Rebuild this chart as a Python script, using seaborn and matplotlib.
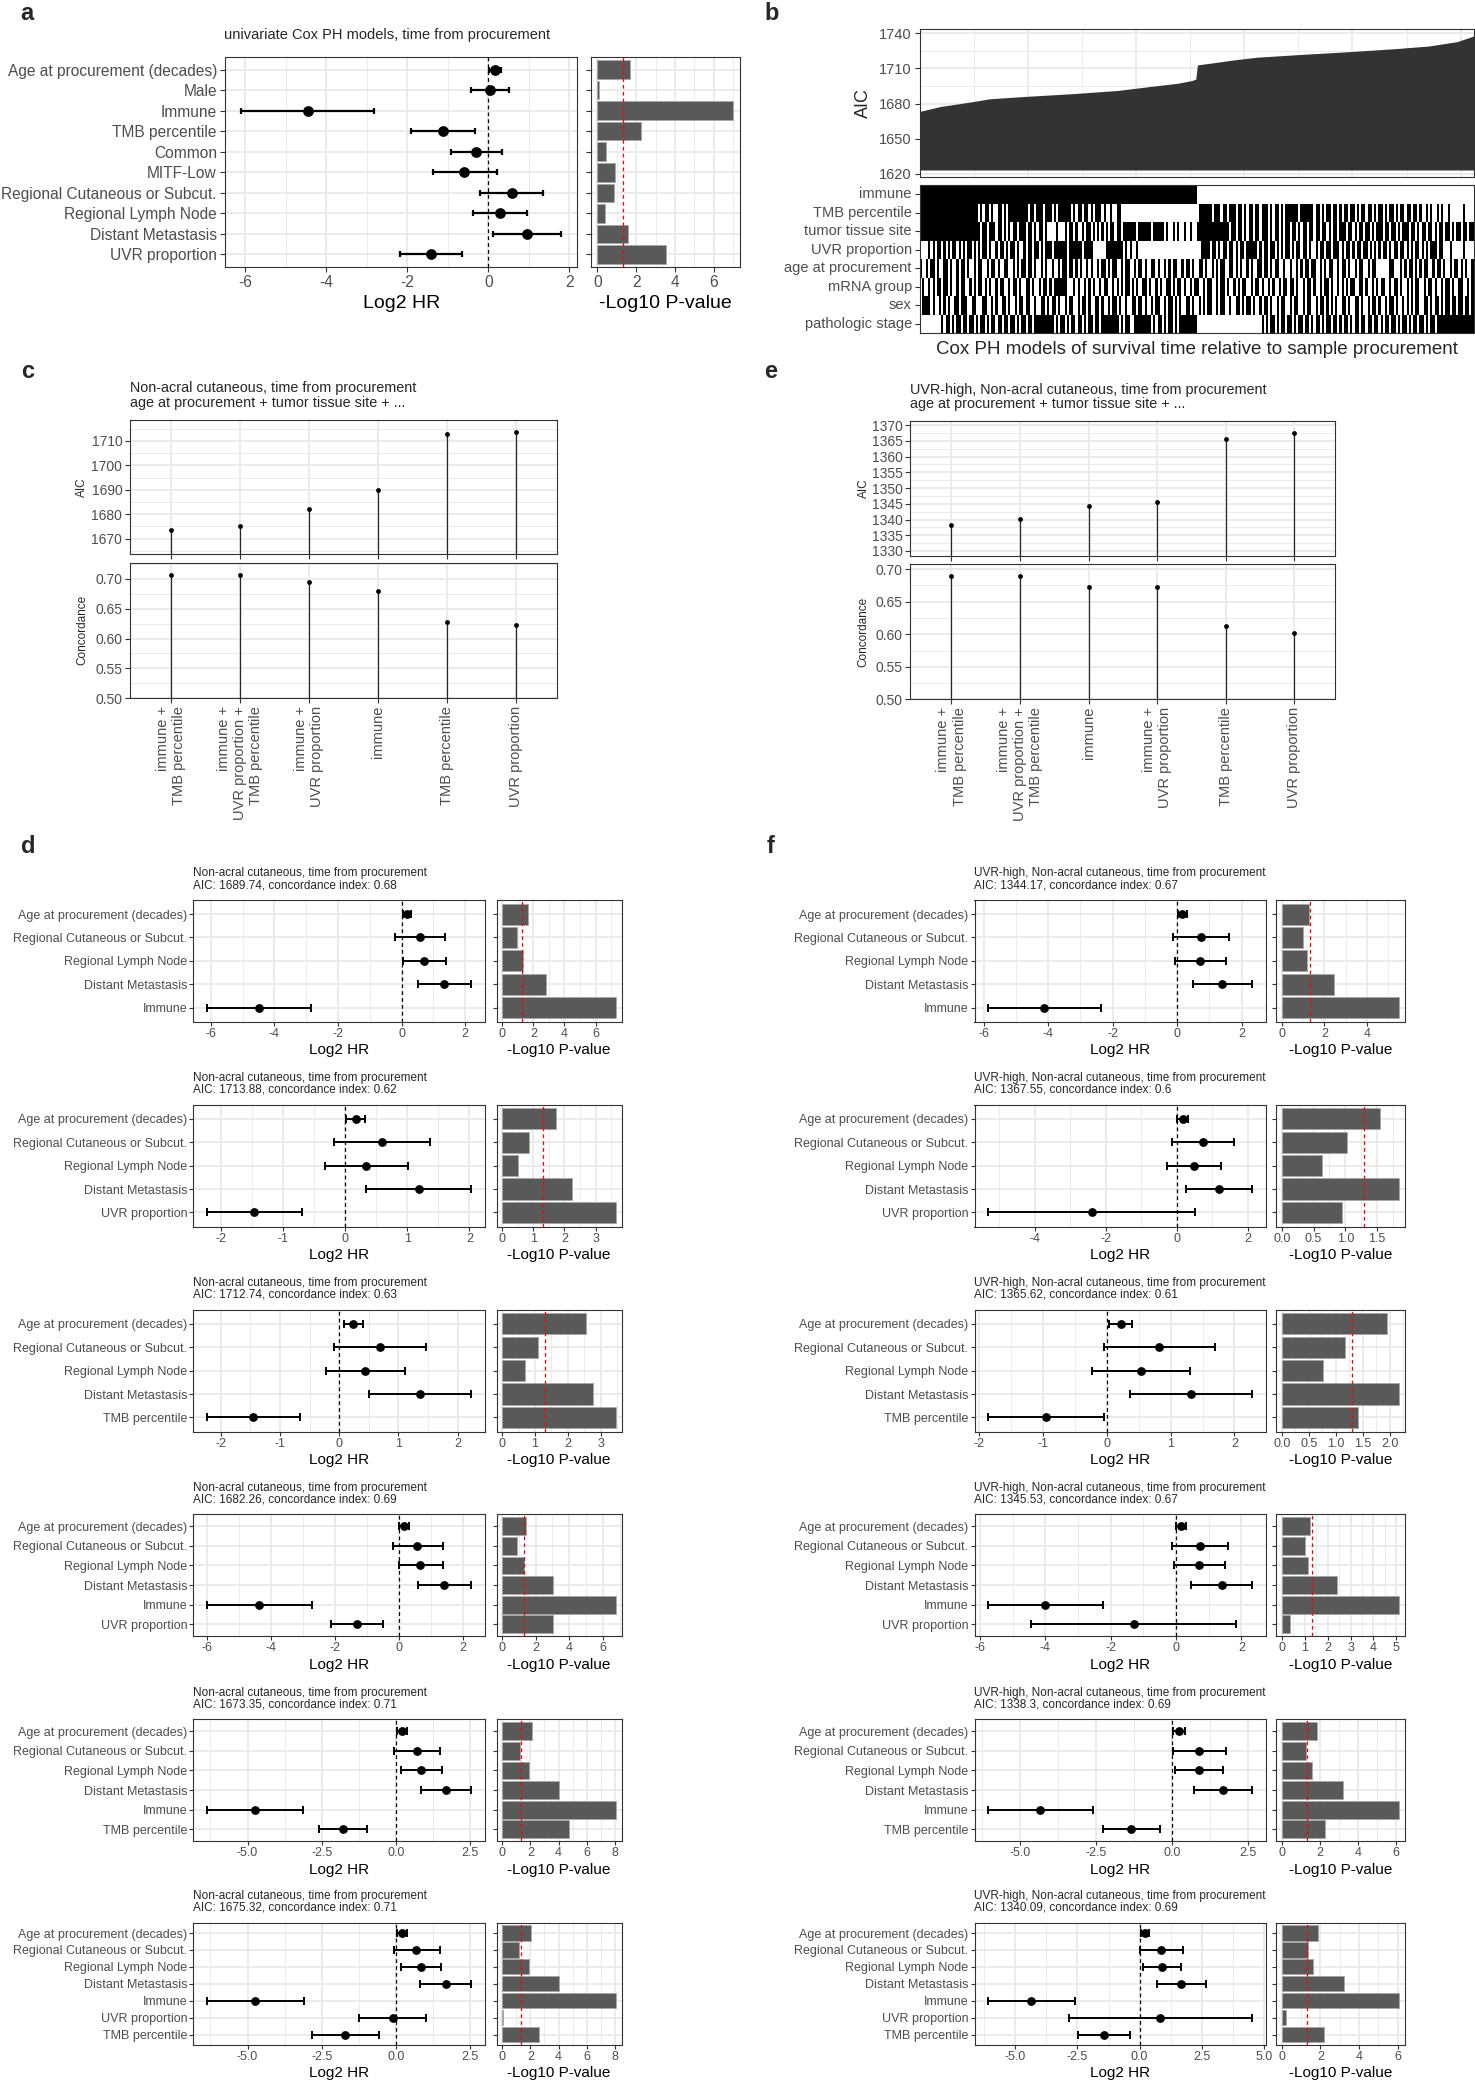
import numpy as np
import pandas as pd
import matplotlib
matplotlib.use("Agg")
import matplotlib.pyplot as plt
import seaborn as sns
from matplotlib.ticker import AutoMinorLocator

sns.set_theme(style="white")
plt.rcParams["font.family"] = ["Liberation Sans", "DejaVu Sans"]
plt.rcParams["axes.unicode_minus"] = False

# ---------------- panel a: univariate Cox models ----------------
a_terms = ["Age at procurement (decades)", "Male", "Immune", "TMB percentile", "Common",
           "MITF-Low", "Regional Cutaneous or Subcut.", "Regional Lymph Node",
           "Distant Metastasis", "UVR proportion"]
a_hr = [0.17, 0.05, -4.45, -1.11, -0.30, -0.60, 0.57, 0.29, 0.95, -1.42]
a_lo = [0.02, -0.43, -6.10, -1.90, -0.92, -1.37, -0.21, -0.38, 0.12, -2.19]
a_hi = [0.31, 0.51, -2.83, -0.32, 0.34, 0.20, 1.35, 0.96, 1.79, -0.66]
a_p = [1.66, 0.07, 7.00, 2.27, 0.44, 0.88, 0.83, 0.41, 1.59, 3.54]
a_xt = [-6, -4, -2, 0, 2]
a_pt = [0, 2, 4, 6]

# ---------------- panel b: all models sorted by AIC ----------------
b_rank = [0, 9.7, 18.3, 26.9, 32.3, 48.4, 69.9, 91.4, 106.5, 119.4, 125.8, 127.6,
          128.4, 134.4, 145.2, 155.9, 177.5, 199.0, 220.5, 235.5, 248.4, 256]
b_aic = [1673.3, 1677.6, 1679.9, 1682.4, 1684.1, 1686.1, 1688.4, 1691.2, 1694.6, 1697.4,
         1699.7, 1700.9, 1713.0, 1714.5, 1717.3, 1719.6, 1722.1, 1724.4, 1727.0, 1729.2,
         1732.9, 1737.7]
b_base = 1623.35
b_yt = [1620, 1650, 1680, 1710, 1740]
b_vars = ["immune", "TMB percentile", "tumor tissue site", "UVR proportion",
          "age at procurement", "mRNA group", "sex", "pathologic stage"]
n_models = 256

hm_immune = "1" * 128 + "0" * 128
hm_tmb = "".join(["1" * 27, "010110100110101", "1111111", "101101", "11011101011", "1111",
                  "01011011010", "1110", "10010011", "0" * 36, "111111", "011",
                  "101101110110101101101110101101011", "1111011111",
                  "101101011011010110110101101101011010110101101101",
                  "101001010010100100", "000010000"])
hm_site = "".join(["1" * 27, "10110111011010", "1011011101101011010", "0001000",
                   "10110100101101010", "10101101101", "11111011111101111", "1010010100",
                   "100100", "1" * 14,
                   "1011011010", "1101101110", "1011010110", "1101011011", "0110110101",
                   "1011101101", "0110110101", "1101101101", "0111011010", "1101101011",
                   "0110101101", "1011"])
hm_uvr = "".join(["0000", "10101101010110101011010", "1011010010110101101001011011010",
                  "11101", "11111011111101111", "000000", "11111111", "0101001000", "0" * 24,
                  "0011", "1101101011", "0110101101", "1111010110", "1101010110",
                  "1011011010", "0101101101", "1101011010", "1101101010", "1011010110",
                  "1101010110", "101011101", "100010000010000"])
hm_age = "".join(["1001011010", "0110100101", "1010010110", "0101101001", "1001010110",
                  "1101001010", "0100101101", "1010100101", "0010110101", "1001011001",
                  "0110100110", "1001010110", "0101101001", "1010010101", "1001101010",
                  "0101001101", "1010110010", "0100101011", "0110010101", "1001011010",
                  "0101100101", "1000000110", "0010101101", "0101100101", "1010010110",
                  "101001"])
hm_mrna = "".join(["0100101011", "0110100101", "1001010110", "1010010110", "0101101001",
                   "1010010110", "1011111100", "0101001010", "1001011001", "0101011010",
                   "1001101001", "0100110101", "1010010110", "0101100101", "1010010101",
                   "1001011010", "0101001011", "0110100101", "1010010110", "1001010101",
                   "1001101001", "0101100101", "1010010101", "1001011010", "0101101001",
                   "100101"])
hm_sex = "".join(["0111101001", "0101001101", "1100110001", "1001010011", "0100101101",
                  "1001001101", "0110100101", "1001011010", "0110100101", "1010010011",
                  "0110100101", "1001011010", "1001101001", "0101100101", "1001001101",
                  "0110100101", "1010010110", "0101100101", "1001011010", "1010011010",
                  "0110100101", "1010010110", "1001010101", "1001101011", "0101101101",
                  "101101"])
hm_stage = "".join(["0" * 10, "1011010110", "1101101011", "0101101101", "1011010110", "11011",
                    "1111111", "0101101011", "0110101101", "101", "1111111", "0101100",
                    "11111111", "01011010110101", "1111111", "0" * 30,
                    "1010110101", "1011010110", "1101011010", "1101101011", "0101101101",
                    "1011010110", "1101011010", "1101101011", "011", "1" * 15])

# ---------------- panels c / e: model comparison ----------------
c_labels = ["immune +\nTMB percentile", "immune +\nUVR proportion +\nTMB percentile",
            "immune +\nUVR proportion", "immune", "TMB percentile", "UVR proportion"]
c_aic = [1673.35, 1675.32, 1682.26, 1689.74, 1712.74, 1713.88]
c_conc = [0.707, 0.707, 0.694, 0.679, 0.628, 0.622]
c_aic_lim = (1663.6, 1718.6)
c_aic_t = [1670, 1680, 1690, 1700, 1710]
c_conc_lim = (0.50, 0.727)

e_labels = ["immune +\nTMB percentile", "immune +\nUVR proportion +\nTMB percentile",
            "immune", "immune +\nUVR proportion", "TMB percentile", "UVR proportion"]
e_aic = [1338.3, 1340.09, 1344.17, 1345.53, 1365.62, 1367.55]
e_conc = [0.690, 0.690, 0.672, 0.672, 0.612, 0.602]
e_aic_lim = (1328.5, 1371.3)
e_aic_t = [1330, 1335, 1340, 1345, 1350, 1355, 1360, 1365, 1370]
e_conc_lim = (0.50, 0.708)
conc_t = [0.50, 0.55, 0.60, 0.65, 0.70]

# ---------------- panels d / f: multivariable models ----------------
base_terms = ["Age at procurement (decades)", "Regional Cutaneous or Subcut.",
              "Regional Lymph Node", "Distant Metastasis"]
sub_extra = [["Immune"], ["UVR proportion"], ["TMB percentile"], ["Immune", "UVR proportion"],
             ["Immune", "TMB percentile"], ["Immune", "UVR proportion", "TMB percentile"]]

d_hr = [[0.16, 0.58, 0.70, 1.34, -4.49],
        [0.17, 0.585, 0.34, 1.19, -1.46],
        [0.23, 0.68, 0.435, 1.36, -1.46],
        [0.16, 0.57, 0.66, 1.405, -4.36, -1.32],
        [0.21, 0.71, 0.85, 1.69, -4.76, -1.78],
        [0.21, 0.69, 0.84, 1.69, -4.74, -0.10, -1.70]]
d_lo = [[0.03, -0.20, 0.03, 0.50, -6.13],
        [0.015, -0.18, -0.32, 0.34, -2.23],
        [0.08, -0.085, -0.22, 0.51, -2.24],
        [0.01, -0.19, 0.01, 0.59, -6.00, -2.11],
        [0.02, -0.05, 0.18, 0.83, -6.38, -2.59],
        [0.02, -0.06, 0.16, 0.82, -6.38, -1.24, -2.83]]
d_hi = [[0.31, 1.36, 1.40, 2.19, -2.84],
        [0.32, 1.36, 1.01, 2.03, -0.69],
        [0.395, 1.457, 1.11, 2.23, -0.66],
        [0.32, 1.36, 1.36, 2.25, -2.71, -0.51],
        [0.37, 1.48, 1.54, 2.54, -3.13, -0.98],
        [0.37, 1.48, 1.53, 2.54, -3.10, 1.03, -0.58]]
d_p = [[1.66, 0.93, 1.36, 2.83, 7.30],
       [1.73, 0.86, 0.52, 2.25, 3.65],
       [2.55, 1.09, 0.70, 2.76, 3.46],
       [1.40, 0.87, 1.29, 3.03, 6.78, 3.03],
       [2.13, 1.23, 1.90, 4.03, 8.07, 4.73],
       [2.07, 1.17, 1.90, 4.07, 8.07, 0.07, 2.63]]
d_aic = ["1689.74", "1713.88", "1712.74", "1682.26", "1673.35", "1675.32"]
d_cidx = ["0.68", "0.62", "0.63", "0.69", "0.71", "0.71"]
d_xt = [[-6, -4, -2, 0, 2], [-2, -1, 0, 1, 2], [-2, -1, 0, 1, 2], [-6, -4, -2, 0, 2],
        [-5, -2.5, 0, 2.5], [-5, -2.5, 0, 2.5]]
d_xtl = [["-6", "-4", "-2", "0", "2"], ["-2", "-1", "0", "1", "2"], ["-2", "-1", "0", "1", "2"],
         ["-6", "-4", "-2", "0", "2"], ["-5.0", "-2.5", "0.0", "2.5"], ["-5.0", "-2.5", "0.0", "2.5"]]
d_pt = [[0, 2, 4, 6], [0, 1, 2, 3], [0, 1, 2, 3], [0, 2, 4, 6], [0, 2, 4, 6, 8], [0, 2, 4, 6, 8]]
d_ptl = [["0", "2", "4", "6"], ["0", "1", "2", "3"], ["0", "1", "2", "3"], ["0", "2", "4", "6"],
         ["0", "2", "4", "6", "8"], ["0", "2", "4", "6", "8"]]

f_hr = [[0.16, 0.74, 0.71, 1.39, -4.12],
        [0.18, 0.74, 0.48, 1.18, -2.39],
        [0.22, 0.82, 0.54, 1.32, -0.96],
        [0.16, 0.73, 0.71, 1.39, -4.00, -1.29],
        [0.22, 0.88, 0.91, 1.68, -4.34, -1.34],
        [0.21, 0.86, 0.90, 1.65, -4.35, 0.83, -1.44]]
f_lo = [[0.02, -0.13, -0.06, 0.48, -5.87],
        [0.01, -0.12, -0.27, 0.25, -5.32],
        [0.04, -0.04, -0.23, 0.36, -1.87],
        [0.00, -0.13, -0.06, 0.47, -5.76, -4.43],
        [0.03, 0.03, 0.11, 0.72, -6.07, -2.28],
        [0.04, 0.02, 0.13, 0.71, -6.10, -2.83, -2.48]]
f_hi = [[0.30, 1.61, 1.52, 2.33, -2.35],
        [0.33, 1.61, 1.25, 2.13, 0.53],
        [0.39, 1.69, 1.31, 2.28, -0.05],
        [0.30, 1.60, 1.50, 2.33, -2.24, 1.83],
        [0.42, 1.77, 1.69, 2.65, -2.60, -0.40],
        [0.39, 1.74, 1.65, 2.65, -2.59, 4.52, -0.39]]
f_p = [[1.27, 1.00, 1.16, 2.44, 5.49],
       [1.55, 1.03, 0.64, 1.84, 0.94],
       [1.96, 1.18, 0.77, 2.17, 1.42],
       [1.24, 1.01, 1.14, 2.42, 5.10, 0.35],
       [1.83, 1.29, 1.59, 3.20, 6.12, 2.28],
       [1.89, 1.35, 1.59, 3.23, 6.05, 0.20, 2.16]]
f_aic = ["1344.17", "1367.55", "1365.62", "1345.53", "1338.3", "1340.09"]
f_cidx = ["0.67", "0.6", "0.61", "0.67", "0.69", "0.69"]
f_xt = [[-6, -4, -2, 0, 2], [-4, -2, 0, 2], [-2, -1, 0, 1, 2], [-6, -4, -2, 0, 2],
        [-5, -2.5, 0, 2.5], [-5, -2.5, 0, 2.5, 5]]
f_xtl = [["-6", "-4", "-2", "0", "2"], ["-4", "-2", "0", "2"], ["-2", "-1", "0", "1", "2"],
         ["-6", "-4", "-2", "0", "2"], ["-5.0", "-2.5", "0.0", "2.5"],
         ["-5.0", "-2.5", "0.0", "2.5", "5.0"]]
f_pt = [[0, 2, 4], [0, 0.5, 1, 1.5], [0, 0.5, 1, 1.5, 2], [0, 1, 2, 3, 4, 5], [0, 2, 4, 6], [0, 2, 4, 6]]
f_ptl = [["0", "2", "4"], ["0.0", "0.5", "1.0", "1.5"], ["0.0", "0.5", "1.0", "1.5", "2.0"],
         ["0", "1", "2", "3", "4", "5"], ["0", "2", "4", "6"], ["0", "2", "4", "6"]]

p_cut = 0.05

# =========================
# Layout helpers (pixel boxes)
# =========================
W, H = 1475, 2083
fig = plt.figure(figsize=(W / 100, H / 100), dpi=100)
GRID = "#EBEBEB"
TXT = "#4D4D4D"


def box(x0, y0, x1, y1):
    return fig.add_axes([x0 / W, 1 - y1 / H, (x1 - x0) / W, (y1 - y0) / H])


def ftxt(x, y, s, **kw):
    kw.setdefault("ha", "center")
    kw.setdefault("va", "center")
    fig.text(x / W, 1 - y / H, s, **kw)


def style(ax, size, tick_len=3.2, pad=2.0, grid=True):
    ax.set_facecolor("white")
    for sp in ax.spines.values():
        sp.set_visible(True)
        sp.set_color("#333333")
        sp.set_linewidth(0.8)
    ax.set_axisbelow(True)
    if grid:
        ax.grid(True, which="major", color=GRID, lw=1.4)
        ax.grid(True, which="minor", color=GRID, lw=0.7)
    ax.tick_params(which="major", length=tick_len, width=0.8, color="#333333",
                   labelcolor=TXT, labelsize=size, pad=pad, left=True, bottom=True)
    ax.tick_params(which="minor", length=0)
    ax.set_xlabel("")
    ax.set_ylabel("")


def forest(fx, bx, top, bot, terms, hr, lo, hi, p, xt, xtl, pt, ptl,
           size, lab_size, lab_off, ms, lw, cap, tick_len, pad):
    axf = box(fx[0], top, fx[1], bot)
    axb = box(bx[0], top, bx[1], bot)
    hr, lo, hi, p = map(np.asarray, (hr, lo, hi, p))
    n = len(terms)
    y = np.arange(n)

    axf.errorbar(hr, y, xerr=[hr - lo, hi - hr], fmt="none", ecolor="black",
                 elinewidth=lw, capsize=cap, capthick=lw, zorder=2)
    sns.scatterplot(x=hr, y=y, ax=axf, s=ms, color="black", linewidth=0, zorder=3)
    axf.axvline(0, color="black", lw=0.9, ls=(0, (3, 2.5)), zorder=2.5)
    span = hi.max() - lo.min()
    axf.set_xlim(lo.min() - 0.05 * span, hi.max() + 0.05 * span)
    axf.set_xticks(xt, labels=xtl)
    axf.xaxis.set_minor_locator(AutoMinorLocator(2))
    axf.set_yticks(y, labels=terms)
    axf.set_ylim(n - 0.4, -0.6)
    style(axf, size, tick_len, pad)

    df = pd.DataFrame({"term": terms, "p": p})
    sns.barplot(data=df, x="p", y="term", ax=axb, orient="h", color="#595959",
                saturation=1, width=0.9, errorbar=None, edgecolor="#a8a8a8", linewidth=0.6)
    axb.axvline(-np.log10(p_cut), color="red", lw=0.9, ls=(0, (3, 2.5)), zorder=3)
    axb.set_xlim(-0.05 * p.max(), 1.05 * p.max())
    axb.set_xticks(pt, labels=ptl)
    axb.xaxis.set_minor_locator(AutoMinorLocator(2))
    axb.set_yticks(y, labels=[""] * n)
    axb.set_ylim(n - 0.4, -0.6)
    style(axb, size, tick_len, pad)

    ftxt((fx[0] + fx[1]) / 2, bot + lab_off, "Log2 HR", fontsize=lab_size, color="black")
    ftxt((bx[0] + bx[1]) / 2, bot + lab_off, "-Log10 P-value", fontsize=lab_size, color="black")


def lollipop(ax_top, ax_bot, aic, conc, aic_lim, aic_t, conc_lim, labels):
    x = np.arange(len(aic))
    for ax, vals, lim, ticks, fmt in ((ax_top, aic, aic_lim, aic_t, "{:g}"),
                                      (ax_bot, conc, conc_lim, conc_t, "{:.2f}")):
        ax.vlines(x, lim[0], vals, color="#262626", lw=0.9, zorder=2)
        sns.scatterplot(x=x, y=vals, ax=ax, s=12, color="black", linewidth=0, zorder=3)
        ax.set_xlim(-0.6, len(x) - 0.4)
        ax.set_ylim(lim)
        ax.set_yticks(ticks, labels=[fmt.format(t) for t in ticks])
        ax.yaxis.set_minor_locator(AutoMinorLocator(2))
        style(ax, 10, 3.5, 2.0)
    ax_top.set_xticks(x, labels=[""] * len(x))
    ax_bot.set_xticks(x)
    ax_bot.set_xticklabels(labels, rotation=90, ha="center", va="top", multialignment="right",
                           fontsize=10.5, color=TXT)


# =========================
# Panel a
# =========================
ftxt(27, 14, "a", fontsize=17, fontweight="bold")
ftxt(224.5, 35, "univariate Cox PH models, time from procurement", fontsize=10.5, ha="left")
forest((225.4, 576.9), (590.7, 739.7), 57.3, 266.7, a_terms, a_hr, a_lo, a_hi, a_p,
       a_xt, [str(t) for t in a_xt], a_pt, [str(t) for t in a_pt],
       size=11.2, lab_size=14, lab_off=36.3, ms=60, lw=1.6, cap=2.5, tick_len=3.6, pad=2.5)

# =========================
# Panel b
# =========================
ftxt(772, 14, "b", fontsize=17, fontweight="bold")
axA = box(919.6, 29.3, 1473.6, 176.7)
axA.fill_between(b_rank, b_base, b_aic, color="#333333", lw=0)
rng = max(b_aic) - b_base
axA.set_xlim(0, n_models)
axA.set_ylim(b_base - 0.05 * rng, max(b_aic) + 0.05 * rng)
axA.set_yticks(b_yt, labels=[str(t) for t in b_yt])
axA.yaxis.set_minor_locator(AutoMinorLocator(2))
axA.set_xticks([50, 100, 150, 200, 250], labels=[""] * 5)
axA.xaxis.set_minor_locator(AutoMinorLocator(2))
style(axA, 10.5, 3.6, 2.0)
axA.tick_params(axis="x", length=0)
ftxt(863.7, 103, "AIC", fontsize=13, rotation=90)

axH = box(919.6, 185, 1473.6, 333.3)
hm_rows = [hm_immune, hm_tmb, hm_site, hm_uvr, hm_age, hm_mrna, hm_sex, hm_stage]
mat = np.array([[int(c) for c in (r + "0" * n_models)[:n_models]] for r in hm_rows])
sns.heatmap(mat, ax=axH, cmap=["white", "black"], vmin=0, vmax=1, cbar=False,
            xticklabels=False, yticklabels=b_vars)
style(axH, 10.5, 3.6, 2.0, grid=False)
axH.tick_params(axis="y", rotation=0)
axH.tick_params(axis="x", length=0)
ftxt(1196.6, 350, "Cox PH models of survival time relative to sample procurement", fontsize=13.5)

# =========================
# Panel c
# =========================
ftxt(28, 372, "c", fontsize=17, fontweight="bold")
ftxt(130, 388.3, "Non-acral cutaneous, time from procurement", fontsize=10.4, ha="left")
ftxt(130, 403.3, "age at procurement + tumor tissue site + ...", fontsize=10.4, ha="left")
axc1 = box(129.9, 420, 557.3, 554.3)
axc2 = box(129.9, 562.7, 557.3, 698.3)
lollipop(axc1, axc2, c_aic, c_conc, c_aic_lim, c_aic_t, c_conc_lim, c_labels)
ftxt(82, 487, "AIC", fontsize=8.5, rotation=90)
ftxt(82, 630, "Concordance", fontsize=8.5, rotation=90)

# =========================
# Panel e
# =========================
ftxt(771, 372, "e", fontsize=17, fontweight="bold")
ftxt(910.3, 390, "UVR-high, Non-acral cutaneous, time from procurement", fontsize=10.4, ha="left")
ftxt(910.3, 404, "age at procurement + tumor tissue site + ...", fontsize=10.4, ha="left")
axe1 = box(910.3, 421, 1335.3, 555.7)
axe2 = box(910.3, 564, 1335.3, 699.3)
lollipop(axe1, axe2, e_aic, e_conc, e_aic_lim, e_aic_t, e_conc_lim, e_labels)
ftxt(863.7, 488, "AIC", fontsize=8.5, rotation=90)
ftxt(863.7, 631.7, "Concordance", fontsize=8.5, rotation=90)

# =========================
# Panels d and f
# =========================
ftxt(28, 846, "d", fontsize=17, fontweight="bold")
ftxt(771, 846, "f", fontsize=17, fontweight="bold")
sub_tops = [900, 1104.7, 1309.7, 1514.3, 1719.3, 1922.9]
sub_h = 121.8
d_fx, d_bx = (193.4, 484.5), (496.5, 621.5)
f_fx, f_bx = (974.5, 1265.5), (1276, 1404.5)

for i in range(6):
    top = sub_tops[i]
    bot = top + sub_h
    terms = base_terms + sub_extra[i]
    forest(d_fx, d_bx, top, bot, terms, d_hr[i], d_lo[i], d_hi[i], d_p[i],
           d_xt[i], d_xtl[i], d_pt[i], d_ptl[i],
           size=9, lab_size=11, lab_off=28.5, ms=40, lw=1.4, cap=2.6, tick_len=2.9, pad=1.5)
    ftxt(d_fx[0], top - 26.7, "Non-acral cutaneous, time from procurement", fontsize=8.5, ha="left")
    ftxt(d_fx[0], top - 15.0, f"AIC: {d_aic[i]}, concordance index: {d_cidx[i]}",
         fontsize=8.5, ha="left")

    forest(f_fx, f_bx, top, bot, terms, f_hr[i], f_lo[i], f_hi[i], f_p[i],
           f_xt[i], f_xtl[i], f_pt[i], f_ptl[i],
           size=9, lab_size=11, lab_off=28.5, ms=40, lw=1.4, cap=2.6, tick_len=2.9, pad=1.5)
    ftxt(f_fx[0], top - 26.7, "UVR-high, Non-acral cutaneous, time from procurement",
         fontsize=8.5, ha="left")
    ftxt(f_fx[0], top - 15.0, f"AIC: {f_aic[i]}, concordance index: {f_cidx[i]}",
         fontsize=8.5, ha="left")

fig.savefig("out.png", dpi=100, facecolor="white")
